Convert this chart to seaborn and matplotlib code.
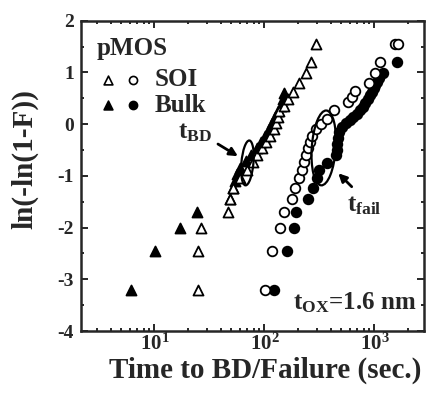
import numpy as np
import pandas as pd
import matplotlib
matplotlib.use("Agg")
import matplotlib.pyplot as plt
import seaborn as sns
from matplotlib.patches import Ellipse
from matplotlib.transforms import Affine2D, ScaledTranslation
from matplotlib.ticker import FixedLocator, FixedFormatter, LogLocator, NullFormatter, MultipleLocator

# ---------------- data ----------------
soi_bd_t = [25, 25, 26.5, 46.5, 48.5, 51.5, 60, 70, 78, 86, 95, 104, 113, 121, 128,
            133, 137, 150, 165, 182, 205, 237, 266, 292]
soi_bd_y = [-3.2, -2.45, -2.0, -1.7, -1.45, -1.24, -1.05, -0.88, -0.74, -0.6, -0.47,
            -0.35, -0.22, -0.1, 0.02, 0.13, 0.25, 0.36, 0.48, 0.62, 0.8, 0.98, 1.21, 1.55]

bulk_bd_t = [6.1, 10.1, 17, 24.2, 48.5, 51.5, 54, 56.5, 60, 68, 76, 85, 93, 102, 110,
             118, 126, 134, 141, 147, 152]
bulk_bd_y = [-3.2, -2.45, -2.0, -1.7, -1.45, -1.24, -1.1, -0.97, -0.85, -0.72, -0.6,
             -0.47, -0.35, -0.22, -0.1, 0.02, 0.13, 0.25, 0.36, 0.48, 0.6]

soi_fail_t = [101, 116, 138, 151, 177, 190, 206, 220, 230, 238, 247, 258, 272, 295,
              325, 368, 425, 575, 628, 665, 900, 1010, 1120, 1530, 1640]
soi_fail_y = [-3.2, -2.45, -2.0, -1.7, -1.45, -1.24, -1.05, -0.88, -0.74, -0.6, -0.47,
              -0.35, -0.22, -0.1, 0.0, 0.1, 0.27, 0.42, 0.53, 0.65, 0.8, 0.98, 1.21,
              1.55, 1.55]

bulk_fail_t = [123, 161, 187, 193, 250, 278, 300, 310, 367, 445, 452, 455, 462, 480,
               510, 555, 595, 640, 690, 735, 780, 820, 870, 910, 950, 985, 1020, 1060,
               1110, 1190, 1590]
bulk_fail_y = [-3.2, -2.45, -2.0, -1.7, -1.45, -1.24, -1.05, -0.89, -0.75, -0.6, -0.5,
               -0.38, -0.27, -0.15, -0.06, 0.02, 0.08, 0.14, 0.2, 0.27, 0.33, 0.4, 0.48,
               0.56, 0.62, 0.69, 0.75, 0.82, 0.9, 0.98, 1.21]

y_ticks = [-4, -3, -2, -1, 0, 1, 2]
x_ticks = [10, 100, 1000]
x_tick_labels = [r"$\mathbf{10^{1}}$", r"$\mathbf{10^{2}}$", r"$\mathbf{10^{3}}$"]

# ---------------- style ----------------
sns.set_style("ticks")
plt.rcParams.update({
    "font.family": ["Liberation Serif", "DejaVu Serif"],
    "font.weight": "bold",
    "axes.labelweight": "bold",
    "mathtext.fontset": "custom",
    "mathtext.rm": "Liberation Serif:bold",
    "mathtext.bf": "Liberation Serif:bold",
    "mathtext.it": "Liberation Serif:bold:italic",
    "axes.unicode_minus": False,
    "axes.linewidth": 1.8,
})

fig = plt.figure(figsize=(4.35, 3.94), dpi=100)
ax = fig.add_axes([81 / 435, 1 - 331 / 394, 343 / 435, 310.3 / 394])
ax.set_xscale("log")

frames = [
    pd.DataFrame({"t": soi_bd_t, "w": soi_bd_y, "set": "SOI tBD"}),
    pd.DataFrame({"t": bulk_bd_t, "w": bulk_bd_y, "set": "Bulk tBD"}),
    pd.DataFrame({"t": soi_fail_t, "w": soi_fail_y, "set": "SOI tfail"}),
    pd.DataFrame({"t": bulk_fail_t, "w": bulk_fail_y, "set": "Bulk tfail"}),
]
df = pd.concat(frames, ignore_index=True)

styles = {
    "Bulk tBD": dict(marker="^", s=52, color="black", edgecolor="black"),
    "Bulk tfail": dict(marker="o", s=48, color="black", edgecolor="black"),
    "SOI tBD": dict(marker="^", s=52, color="white", edgecolor="black"),
    "SOI tfail": dict(marker="o", s=48, color="white", edgecolor="black"),
}
for name in ["Bulk tBD", "Bulk tfail", "SOI tBD", "SOI tfail"]:
    sub = df[df["set"] == name]
    sns.scatterplot(data=sub, x="t", y="w", ax=ax, linewidth=1.3, legend=False,
                    zorder=3, **styles[name])

ax.set_xlim(2.15, 2820)
ax.set_ylim(-4, 2)

ax.xaxis.set_major_locator(FixedLocator(x_ticks))
ax.xaxis.set_major_formatter(FixedFormatter(x_tick_labels))
ax.xaxis.set_minor_locator(LogLocator(base=10, subs=np.arange(2, 10), numticks=20))
ax.xaxis.set_minor_formatter(NullFormatter())
ax.yaxis.set_major_locator(FixedLocator(y_ticks))
ax.yaxis.set_minor_locator(MultipleLocator(0.5))
ax.set_yticklabels([str(v) for v in y_ticks])

ax.tick_params(which="both", direction="in", top=True, right=True, width=1.4)
ax.tick_params(which="major", length=5)
ax.tick_params(which="minor", length=2.5)
ax.tick_params(axis="y", which="major", labelsize=14, pad=5)
ax.tick_params(axis="x", which="major", labelsize=15, pad=2)
for sp in ax.spines.values():
    sp.set_linewidth(1.8)

ax.set_xlabel("Time to BD/Failure (sec.)", fontsize=21, fontweight="bold")
ax.set_ylabel("ln(-ln(1-F))", fontsize=21, fontweight="bold")
ax.xaxis.set_label_coords(0.536, -0.083)
ax.yaxis.set_label_coords(-0.125, 0.554)

# ellipses (pixel sizes, centred on data points)
def px_ellipse(xc, yc, w, h, ang):
    tr = Affine2D() + ScaledTranslation(xc, yc, ax.transData)
    e = Ellipse((0, 0), w, h, angle=ang, fill=False, lw=1.6, ec="black",
                transform=tr, zorder=4)
    ax.add_patch(e)

px_ellipse(70, -0.75, 12, 45, -5)
px_ellipse(346, -0.46, 24, 75, -4)

# arrows
ax.annotate("", xy=(57.4, -0.62), xytext=(37.8, -0.385),
            arrowprops=dict(arrowstyle="-|>", lw=2, color="black", mutation_scale=12,
                            shrinkA=0, shrinkB=0), zorder=5)
ax.annotate("", xy=(469, -0.95), xytext=(621, -1.21),
            arrowprops=dict(arrowstyle="-|>", lw=2, color="black", mutation_scale=12,
                            shrinkA=0, shrinkB=0), zorder=5)

ax.text(16.4, -0.27, r"$\mathrm{t_{BD}}$", fontsize=18, ha="left", va="baseline")
ax.text(560, -1.68, r"$\mathrm{t_{fail}}$", fontsize=18, ha="left", va="baseline")
ax.text(0.618, 0.068, r"$\mathrm{t_{OX}}$=1.6 nm", fontsize=18, ha="left",
        va="baseline", transform=ax.transAxes)

# legend block
ax.text(0.047, 0.889, "pMOS", fontsize=18, ha="left", va="baseline",
        transform=ax.transAxes)
leg_rows = [("SOI", "white", 0.809), ("Bulk", "black", 0.728)]
for lab, fc, yy in leg_rows:
    ax.scatter([0.079], [yy], marker="^", s=40, facecolor=fc, edgecolor="black",
               linewidth=1.2, transform=ax.transAxes, clip_on=False)
    ax.scatter([0.152], [yy], marker="o", s=34, facecolor=fc, edgecolor="black",
               linewidth=1.2, transform=ax.transAxes, clip_on=False)
    ax.text(0.216, yy, lab, fontsize=18, ha="left", va="center",
            transform=ax.transAxes)

fig.savefig("out.png", dpi=100)
